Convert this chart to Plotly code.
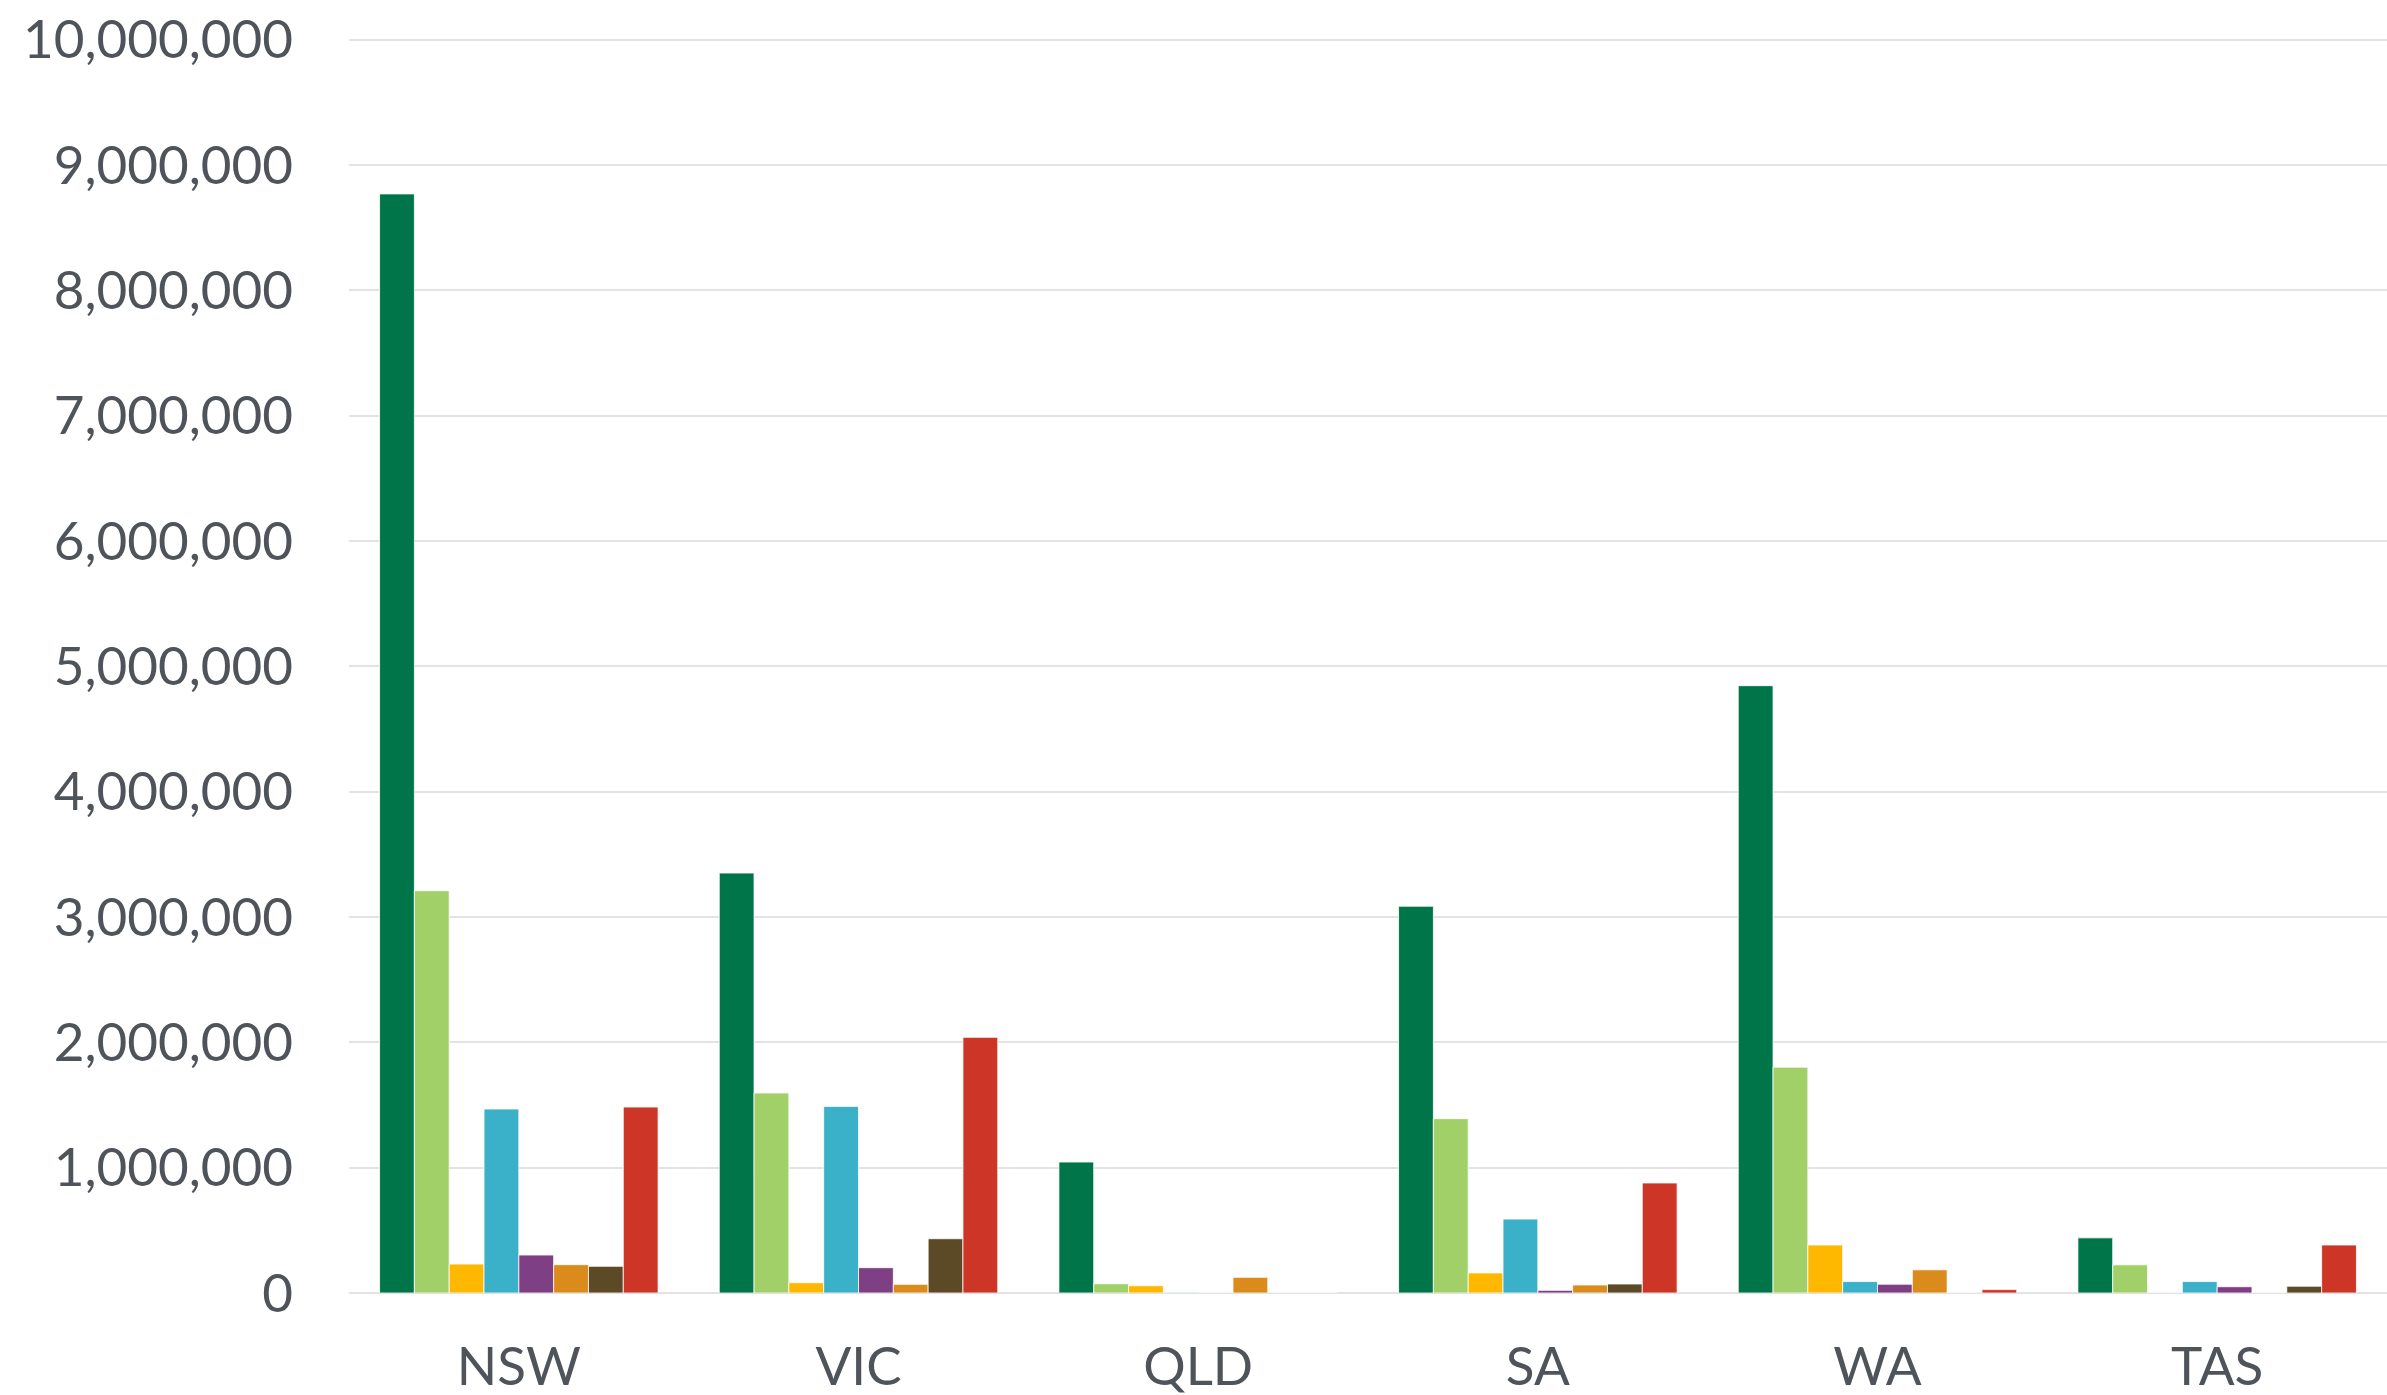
import plotly.graph_objects as go

states = ["NSW", "VIC", "QLD", "SA", "WA", "TAS"]

series_names = ["Series 1", "Series 2", "Series 3", "Series 4",
                "Series 5", "Series 6", "Series 7", "Series 8"]

s1 = [8770000, 3351000, 1045000, 3086000, 4846000, 440000]
s2 = [3210000, 1596000, 74000, 1391000, 1802000, 225000]
s3 = [231000, 82000, 58000, 160000, 383000, 0]
s4 = [1468000, 1489000, 5000, 590000, 91000, 91000]
s5 = [303000, 202000, 0, 21000, 70000, 50000]
s6 = [226000, 69000, 125000, 64000, 185000, 0]
s7 = [213000, 433000, 0, 72000, 0, 54000]
s8 = [1484000, 2040000, 0, 878000, 27000, 383000]

colors = ["#00754A", "#A2D068", "#FFB800", "#3BB0C9",
          "#7E3F84", "#DB8A1C", "#5C4A27", "#CD3526"]

y_ticks = [0, 1000000, 2000000, 3000000, 4000000, 5000000,
           6000000, 7000000, 8000000, 9000000, 10000000]

fig = go.Figure()
for name, vals, col in zip(series_names, [s1, s2, s3, s4, s5, s6, s7, s8], colors):
    fig.add_trace(go.Bar(
        x=states, y=vals, name=name,
        marker=dict(color=col, line=dict(color="rgba(255,255,255,0.8)", width=1)),
    ))

font_family = "Lato, 'Open Sans', sans-serif"
fig.update_layout(
    width=2387, height=1395,
    margin=dict(l=349, r=0, t=36, b=102, autoexpand=False),
    paper_bgcolor="white", plot_bgcolor="white",
    barmode="group", bargap=0.18, bargroupgap=0,
    showlegend=False,
    font=dict(family=font_family, size=53, color="#4F545A"),
)
fig.update_yaxes(
    range=[0, 10030000], tickvals=y_ticks, tickformat=",d",
    showgrid=True, gridcolor="#E3E3E3", gridwidth=2,
    zeroline=True, zerolinecolor="#E3E3E3", zerolinewidth=2,
    showline=False, ticks="", ticklabelstandoff=55,
    ticklabeloverflow="allow", automargin=False,
    tickfont=dict(family=font_family, size=53, color="#4F545A"),
)
fig.update_xaxes(
    showgrid=False, showline=False, ticks="", ticklabelstandoff=38,
    automargin=False,
    tickfont=dict(family=font_family, size=53, color="#4F545A"),
)

fig.write_html(
    "out.html",
    config={"displayModeBar": False},
    post_script="document.body.style.margin='0px';document.body.style.overflow='hidden';",
)
